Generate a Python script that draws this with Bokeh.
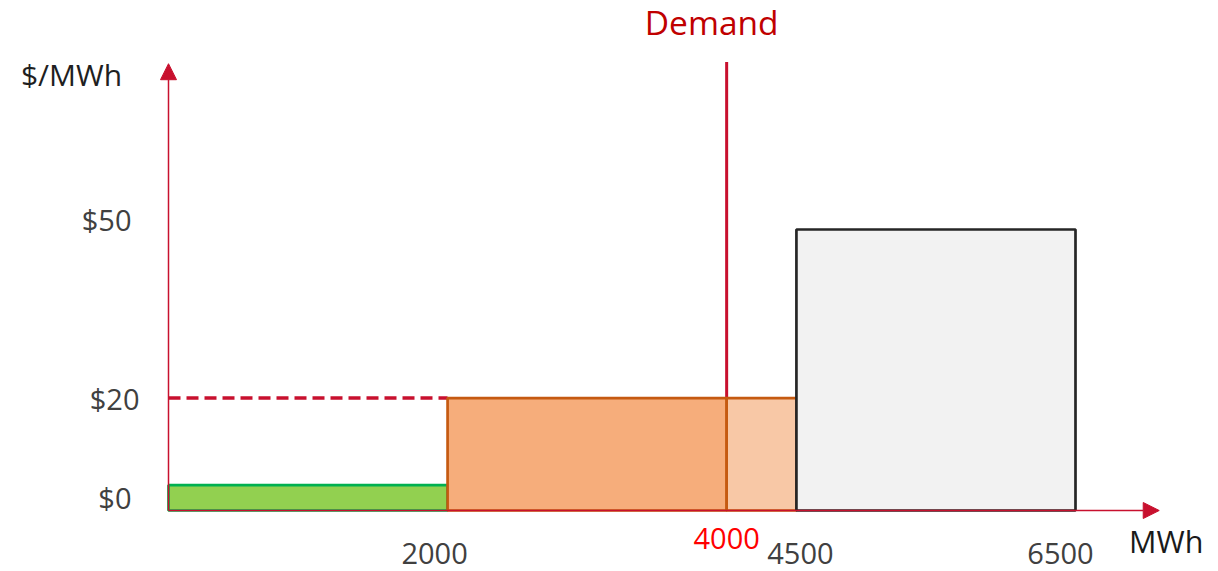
from bokeh.plotting import figure
from bokeh.models import Range1d, Arrow, NormalHead, ColumnDataSource
from bokeh.core.properties import value
from bokeh.embed import file_html
from bokeh.resources import INLINE

# ---- data ----
block_start = [0, 2000, 4000, 4500]          # MWh
block_end = [2000, 4000, 4500, 6500]         # MWh
block_price = [0, 20, 20, 50]                # $/MWh
block_fill = ["#92D050", "#F6AD7B", "#F8C8A6", "#F2F2F2"]
block_line = ["#00B050", "#C55A11", "#C55A11", "#262626"]

demand_mwh = 4000
clearing_price = 20

x_tick_values = [2000, 4000, 4500, 6500]
x_tick_labels = ["2000", "4000", "4500", "6500"]
y_tick_values = [0, 20, 50]
y_tick_labels = ["$0", "$20", "$50"]

# ---- styling constants ----
W, H = 1218, 571
AXIS = "#C8102E"
FONT = "Open Sans"
ZERO_BAR = 4.5          # visible thickness for a $0 block (in $/MWh units)
Y_AXIS_TOP = 79.5
X_AXIS_END = 7100
# linear scale chosen so that 0 MWh -> px 168, 6500 MWh -> px 1075
kx = (1075 - 168) / 6500.0
ky = (510 - 229) / 50.0

p = figure(width=W, height=H, output_backend="svg", toolbar_location=None,
           x_axis_location=None, y_axis_location=None, min_border=0,
           x_range=Range1d(-168 / kx, (W - 168) / kx),
           y_range=Range1d((510 - H) / ky, 510 / ky))
p.grid.visible = False
p.outline_line_color = None
p.background_fill_color = "white"
p.border_fill_color = "white"

# demand line (behind bars)
p.segment(x0=[demand_mwh], y0=[0], x1=[demand_mwh], y1=[Y_AXIS_TOP + 0.3],
          line_color=AXIS, line_width=3)
# dashed clearing price line
p.segment(x0=[0], y0=[clearing_price], x1=[block_start[1]], y1=[clearing_price],
          line_color=AXIS, line_width=3.5, line_dash="12 6")

# axes with arrows
p.add_layout(Arrow(end=NormalHead(size=16, fill_color=AXIS, line_color=AXIS, line_width=1),
                   x_start=0, y_start=0, x_end=0, y_end=Y_AXIS_TOP,
                   line_color=AXIS, line_width=1.5))
p.add_layout(Arrow(end=NormalHead(size=16, fill_color=AXIS, line_color=AXIS, line_width=1),
                   x_start=0, y_start=0, x_end=X_AXIS_END, y_end=0,
                   line_color=AXIS, line_width=1.5))

# supply blocks
tops = [pr if pr > 0 else ZERO_BAR for pr in block_price]
src = ColumnDataSource(dict(left=block_start, right=block_end, bottom=[0] * 4,
                            top=tops, fill=block_fill, line=block_line))
p.quad(left="left", right="right", bottom="bottom", top="top", source=src,
       fill_color="fill", line_color="line", line_width=2.7)

# y tick labels
y_lab_pos = [v if v > 0 else ZERO_BAR / 2 for v in y_tick_values]
p.text(x=[0] * 3, y=y_lab_pos, text=y_tick_labels, x_offset=[-37, -29, -37],
       y_offset=[0, 0, -10],
       text_align="right", text_baseline="middle", text_font=value(FONT),
       text_font_size="29px", text_color="#404040")

# x tick labels
xl_color = ["#404040", "#FF0000", "#404040", "#404040"]
xl_xoff = [-13, 0, 4, -15]
xl_yoff = [43, 28, 43, 43]
p.text(x=x_tick_values, y=[0] * 4, text=x_tick_labels, x_offset=xl_xoff, y_offset=xl_yoff,
       text_align="center", text_baseline="middle", text_font=value(FONT),
       text_font_size="29px", text_color=xl_color)

# axis titles
p.text(x=[0], y=[Y_AXIS_TOP], text=["$/MWh"], x_offset=-97, y_offset=11,
       text_align="center", text_baseline="middle", text_font=value(FONT),
       text_font_size="30px", text_color="#1F1F1F")
p.text(x=[X_AXIS_END], y=[0], text=["MWh"], x_offset=7, y_offset=30,
       text_align="center", text_baseline="middle", text_font=value(FONT),
       text_font_size="30.5px", text_color="#1A1A1A")

# demand label
p.text(x=[demand_mwh], y=[Y_AXIS_TOP], text=["Demand"], x_offset=-15, y_offset=-42,
       text_align="center", text_baseline="middle", text_font=value(FONT),
       text_font_size="33.5px", text_color="#C00000")

open("out.html", "w").write(file_html(p, INLINE))
